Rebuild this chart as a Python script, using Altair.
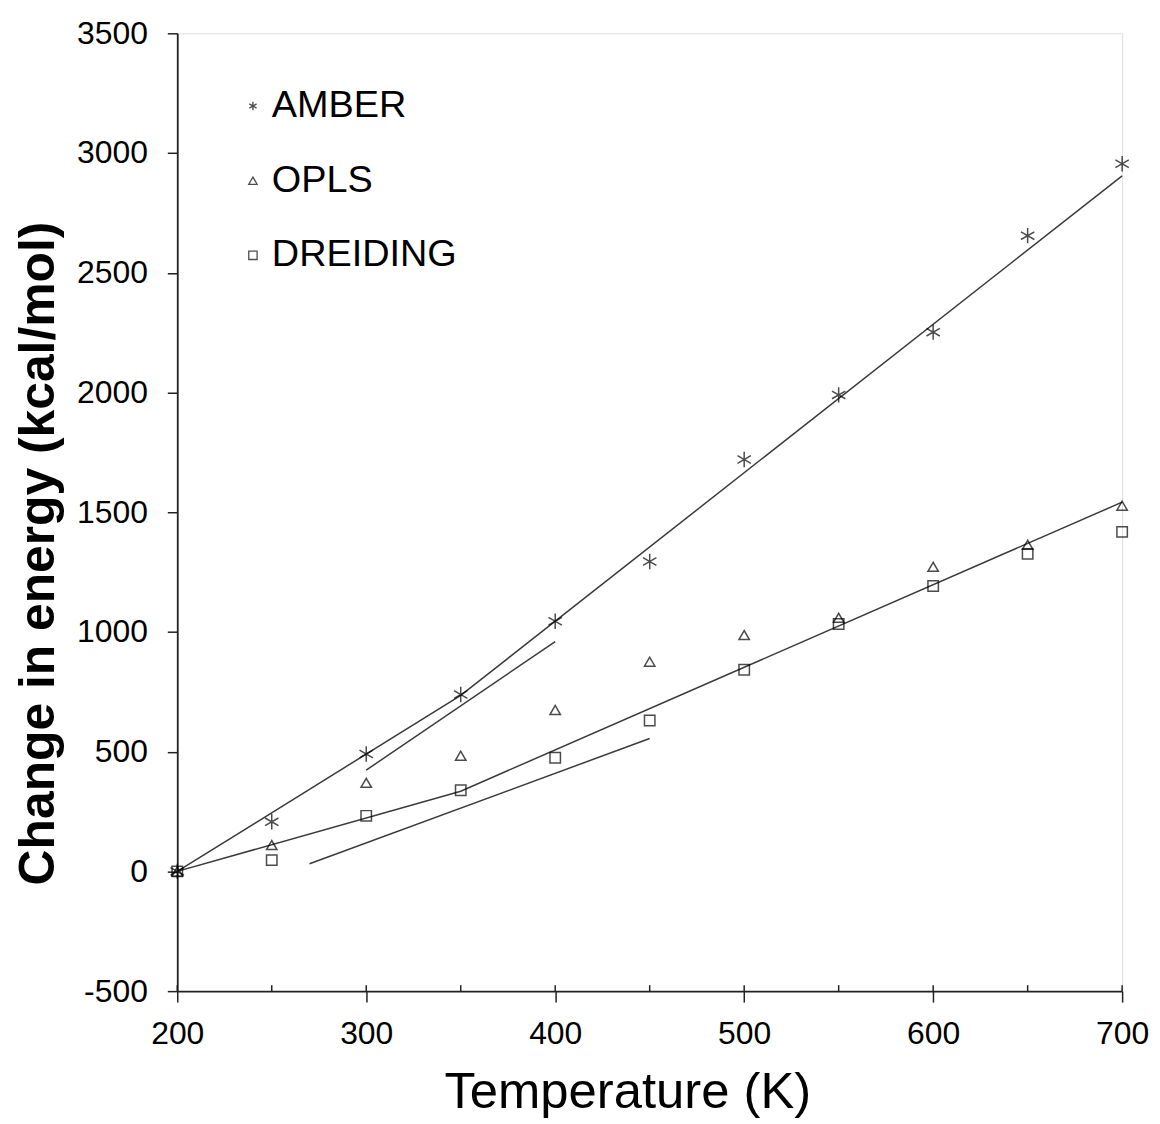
import altair as alt
import pandas as pd

# ---- data ----
temps = [200, 250, 300, 350, 400, 450, 500, 550, 600, 650, 700]
amber = [0, 207, 490, 739, 1045, 1294, 1720, 1990, 2252, 2655, 2955]
opls = [0, 110, 370, 483, 674, 876, 987, 1059, 1272, 1364, 1527]
dreiding = [0, 47, 232, 339, 475, 630, 842, 1033, 1192, 1326, 1418]
series_names = ["AMBER", "OPLS", "DREIDING"]

# fitted / guide lines (segment id, temperature, energy)
fit_seg = ["upper", "upper", "upper", "lower", "lower", "lower", "tanA", "tanA", "tanB", "tanB"]
fit_t = [200, 350, 700, 200, 350, 700, 300, 400, 270, 450]
fit_e = [0, 735, 2905, 0, 335, 1542, 423, 960, 32, 555]

x_major = [200, 300, 400, 500, 600, 700]
x_minor = [250, 350, 450, 550, 650]
y_ticks = [-500, 0, 500, 1000, 1500, 2000, 2500, 3000, 3500]

rows = []
for name, vals in zip(series_names, [amber, opls, dreiding]):
    for t, v in zip(temps, vals):
        rows.append({"series": name, "T": t, "E": v})
pts = pd.DataFrame(rows)
fits = pd.DataFrame({"seg": fit_seg, "T": fit_t, "E": fit_e, "ord": list(range(len(fit_t)))})
ticks_in = pd.DataFrame({"T": x_major + x_minor})

W, H = 949, 962
FONT = "Liberation Sans, Arial, sans-serif"

asterisk = "M0,-1L0,1M-0.87,-0.5L0.87,0.5M-0.87,0.5L0.87,-0.5"

xscale = alt.Scale(domain=[200, 700], nice=False, zero=False)
yscale = alt.Scale(domain=[-500, 3500], nice=False, zero=False)

xaxis = alt.Axis(title="Temperature (K)", values=x_major, tickSize=11, tickColor="#222",
                 tickWidth=1.5, domainColor="#222", domainWidth=1.8, labelFontSize=32,
                 labelFont=FONT, labelColor="black", labelPadding=17, labelFlush=False,
                 labelExpr="'' + datum.value",
                 titleFont=FONT, titleFontSize=51, titleFontWeight="normal",
                 titleColor="black", titleX=452, titleY=117, titleAlign="center",
                 titleBaseline="alphabetic", grid=False)
yaxis = alt.Axis(title="Change in energy (kcal/mol)", values=y_ticks, tickSize=10, tickColor="#222",
                 tickWidth=1.5, domainColor="#222", domainWidth=1.8, labelFontSize=32,
                 labelFont=FONT, labelColor="black", labelPadding=20, labelFlush=False,
                 labelExpr="'' + datum.value",
                 titleFont=FONT, titleFontSize=50, titleFontWeight="bold", titleColor="black",
                 titleAngle=270, titleX=-124, titleY=522, titleAlign="center",
                 titleBaseline="alphabetic", grid=False)

shape_scale = alt.Scale(domain=series_names, range=[asterisk, "triangle-up", "square"])

points = alt.Chart(pts).mark_point(filled=False, color="black", strokeWidth=1.5).encode(
    x=alt.X("T:Q", scale=xscale, axis=xaxis),
    y=alt.Y("E:Q", scale=yscale, axis=yaxis),
    shape=alt.Shape("series:N", scale=shape_scale, sort=series_names,
                    legend=alt.Legend(title=None, orient="none", legendX=57, legendY=54,
                                      labelFontSize=38, labelFont=FONT, labelColor="black",
                                      labelLimit=0, symbolSize=70, symbolStrokeColor="black",
                                      symbolStrokeWidth=1.3, symbolFillColor="transparent",
                                      rowPadding=37, labelOffset=0)),
    size=alt.condition(alt.datum.series == "AMBER", alt.value(240), alt.value(110)),
)

lines = alt.Chart(fits).mark_line(color="#3a3a3a", strokeWidth=1.5).encode(
    x=alt.X("T:Q", scale=xscale),
    y=alt.Y("E:Q", scale=yscale),
    detail="seg:N",
    order="ord:Q",
)

inner_ticks = alt.Chart(ticks_in).mark_rule(color="#222", strokeWidth=1.5).encode(
    x=alt.X("T:Q", scale=xscale),
    y=alt.value(H),
    y2=alt.value(H - 6),
)

chart = alt.layer(lines, points, inner_ticks).properties(
    width=W, height=H,
    autosize=alt.AutoSizeParams(type="none"),
    padding={"left": 170, "top": 23, "right": 30, "bottom": 125},
).configure_view(stroke="#9a9a9a", strokeWidth=2).configure(background="white")

chart.save("out.html", embed_options={"renderer": "svg", "actions": False})
